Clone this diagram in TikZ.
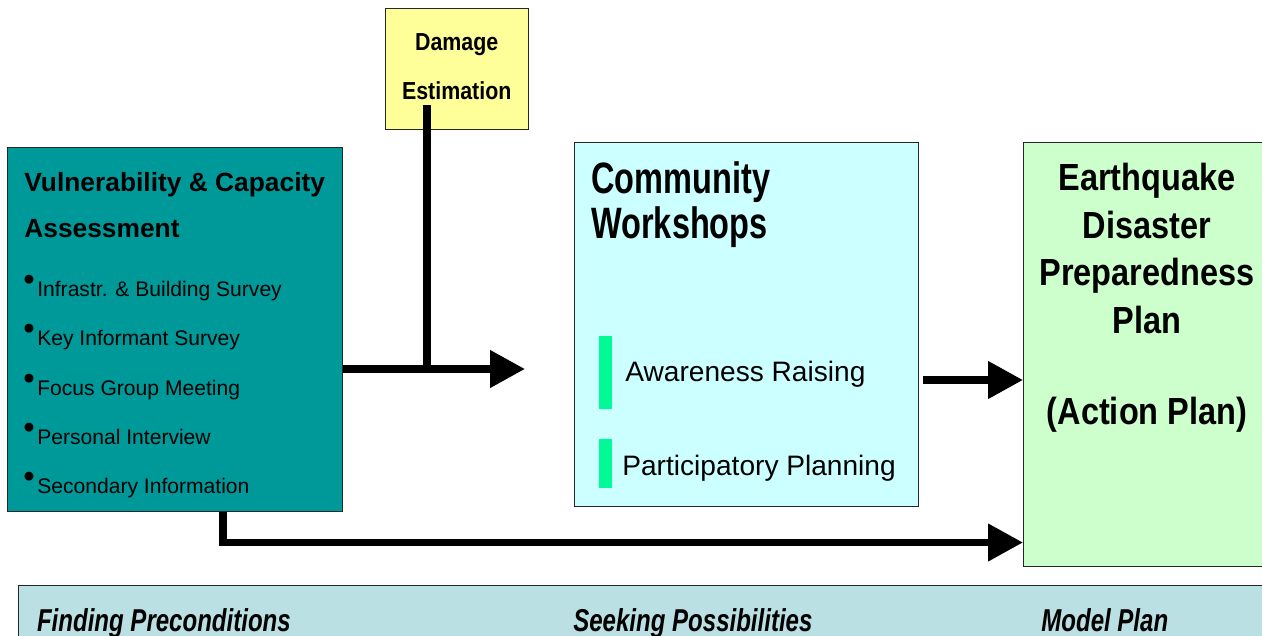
\documentclass[tikz,border=0pt]{standalone}
\usepackage{fontspec}
\setmainfont{Liberation Sans}
\newfontfamily\dmgfont[FakeStretch=0.87]{Liberation Sans}
\newfontfamily\cwfont[FakeStretch=0.74]{Liberation Sans}
\newfontfamily\eqfont[FakeStretch=0.86]{Liberation Sans}
\newfontfamily\bandfont[FakeStretch=0.76]{Liberation Sans}
\usetikzlibrary{arrows.meta}

\definecolor{vcateal}{RGB}{0,153,153}
\definecolor{dmgyellow}{RGB}{255,255,153}
\definecolor{cwcyan}{RGB}{204,255,255}
\definecolor{eqgreen}{RGB}{204,255,204}
\definecolor{bandblue}{RGB}{186,224,227}
\definecolor{barmint}{RGB}{0,250,150}

\newcommand{\fsz}[1]{\fontsize{#1}{1.2\dimexpr#1\relax}\selectfont}
\newcommand{\bul}{\makebox[4.2pt]{\raisebox{3.4pt}{\scalebox{1.55}{\textbullet}}}\hspace{2.6pt}}

\begin{document}
\begin{tikzpicture}[x=0.02cm,y=-0.02cm,
  box/.style={draw=black!85, line width=0.8pt, anchor=north west, inner sep=0pt},
  txt/.style={anchor=base west, inner sep=0pt},
  ctxt/.style={anchor=base, inner sep=0pt},
  feed/.style={line width=4.3pt},
  flow/.style={line width=4.3pt, -{Triangle[length=0.7cm,width=0.72cm]}},
  bar/.style={fill=barmint, draw=none, inner sep=0pt, anchor=north west,
              minimum width=0.26cm},
]
\useasboundingbox (0,0) rectangle (1262,636);
\fill[white] (0,0) rectangle (1262,636);
\clip (0,0) rectangle (1262,636);

% boxes
\node[box, fill=vcateal, minimum width=6.70cm, minimum height=7.28cm] (vca) at (7,147) {};
\node[box, fill=dmgyellow, minimum width=2.86cm, minimum height=2.42cm] (dmg) at (385,8) {};
\node[box, fill=cwcyan, minimum width=6.88cm, minimum height=7.28cm] (cw) at (574,142) {};
\node[box, fill=eqgreen, minimum width=8cm, minimum height=8.48cm] (eq) at (1023,142) {};
\node[box, fill=bandblue, minimum width=27cm, minimum height=2cm] (band) at (18,585) {};

% assessment box text
\node[txt, font=\fsz{15pt}\bfseries] (vcat1) at (24,191.7) {Vulnerability \& Capacity};
\node[txt, font=\fsz{15pt}\bfseries] (vcat2) at (24,237.7) {Assessment};
\node[txt, font=\fsz{12pt}] (it1) at (25,296.7) {\bul Infrastr. \& Building Survey};
\node[txt, font=\fsz{12pt}] (it2) at (25,345.5) {\bul Key Informant Survey};
\node[txt, font=\fsz{12pt}] (it3) at (25,395) {\bul Focus Group Meeting};
\node[txt, font=\fsz{12pt}] (it4) at (25,444) {\bul Personal Interview};
\node[txt, font=\fsz{12pt}] (it5) at (25,493) {\bul Secondary Information};

% damage estimation text
\node[ctxt, font=\dmgfont\fsz{14pt}\bfseries] (dmgt1) at (456.7,50) {Damage};
\node[ctxt, font=\dmgfont\fsz{14pt}\bfseries] (dmgt2) at (456.7,99) {Estimation};

% community workshops text
\node[txt, font=\cwfont\fsz{25pt}\bfseries] (cwt1) at (591,193) {Community};
\node[txt, font=\cwfont\fsz{25pt}\bfseries] (cwt2) at (591,238) {Workshops};
\node[bar, minimum height=1.46cm] (bar1) at (599,336) {};
\node[bar, minimum height=0.98cm] (bar2) at (599,439) {};
\node[txt, font=\fsz{16pt}] (aware) at (625,381) {Awareness Raising};
\node[txt, font=\fsz{16pt}] (part) at (622,475) {Participatory Planning};

% plan text
\node[ctxt, font=\eqfont\fsz{21.5pt}\bfseries] (eqt1) at (1147,190) {Earthquake};
\node[ctxt, font=\eqfont\fsz{21.5pt}\bfseries] (eqt2) at (1147,238) {Disaster};
\node[ctxt, font=\eqfont\fsz{21.5pt}\bfseries] (eqt3) at (1147,285) {Preparedness};
\node[ctxt, font=\eqfont\fsz{21.5pt}\bfseries] (eqt4) at (1147,333) {Plan};
\node[ctxt, font=\eqfont\fsz{21.5pt}\bfseries] (eqt5) at (1147,424) {(Action Plan)};

% phase labels
\node[txt, font=\bandfont\fsz{18pt}\bfseries\itshape] (ph1) at (36.7,631) {Finding Preconditions};
\node[txt, font=\bandfont\fsz{18pt}\bfseries\itshape] (ph2) at (573,631) {Seeking Possibilities};
\node[txt, font=\bandfont\fsz{18pt}\bfseries\itshape] (ph3) at (1041,631) {Model Plan};

% connectors
\coordinate (dmgtail) at (427,105);
\coordinate (jn) at (427,369);
\coordinate (tipA) at (525,369);
\coordinate (tailB) at (923,380);
\coordinate (bend) at (223,542.5);

\draw[feed] (dmgtail) -- (jn);
\draw[flow] (vca.east |- jn) -- (tipA);
\draw[flow] (tailB) -- (eq.west |- tailB);
\draw[flow, line join=miter] (vca.south -| bend) -- (bend) -- (eq.west |- bend);
\end{tikzpicture}
\end{document}
